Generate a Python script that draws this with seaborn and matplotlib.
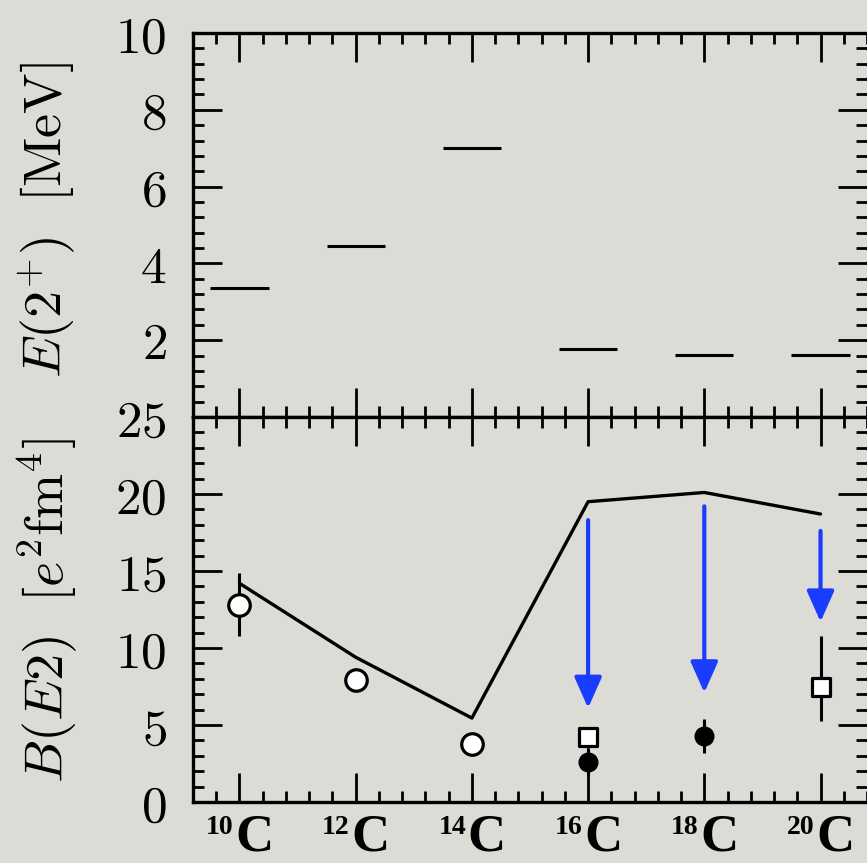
import numpy as np
import pandas as pd
import matplotlib
matplotlib.use("Agg")
import matplotlib.pyplot as plt
import matplotlib.transforms as mtransforms
from matplotlib.ticker import MultipleLocator
import seaborn as sns

# ---------------- data ----------------
isotopes_A = [10, 12, 14, 16, 18, 20]
isotope_labels = ["10", "12", "14", "16", "18", "20"]
element = "C"

e2plus_MeV = [3.35, 4.45, 7.01, 1.77, 1.61, 1.61]
be2_theory = [14.2, 9.4, 5.45, 19.5, 20.1, 18.7]

open_A = [10, 12, 14]
open_be2 = [12.8, 7.9, 3.75]
open_err = [2.05, 0.0, 0.0]

filled_A = [16, 18]
filled_be2 = [2.6, 4.3]
filled_err = [0.9, 1.1]

square_A = [16, 20]
square_be2 = [4.2, 7.45]
square_err_lo = [0.7, 2.2]
square_err_hi = [0.7, 3.3]

arrow_A = [16, 18, 20]
arrow_from = [18.3, 19.2, 17.6]
arrow_to = [6.1, 7.1, 11.7]

e_ticks = [2, 4, 6, 8, 10]
b_ticks = [0, 5, 10, 15, 20, 25]

top_ylabel = r"$E(2^{+})\ \ [\mathrm{MeV}]$"
bot_ylabel = r"$B(E2)\ \ [e^{2}\mathrm{fm}^{4}]$"

# ---------------- style ----------------
sns.set_theme(style="ticks")
plt.rcParams["font.family"] = ["DejaVu Serif"]
plt.rcParams["mathtext.fontset"] = "cm"

bg = "#dcdbd6"
blue = "#1a3cff"

fig = plt.figure(figsize=(8.67, 8.63), dpi=100, facecolor=bg)
W, H = 867, 863
left = 193 / W
width = 1.0 - left
ax1 = fig.add_axes([left, 1 - 417 / H, width, (417 - 33) / H])
ax2 = fig.add_axes([left, 1 - 802 / H, width, (802 - 417) / H])

for ax in (ax1, ax2):
    ax.set_facecolor(bg)
    ax.set_xlim(9.2, 20.8)
    ax.xaxis.set_major_locator(MultipleLocator(2))
    ax.xaxis.set_minor_locator(MultipleLocator(0.4))
    ax.tick_params(which="both", direction="in", top=True, bottom=True,
                   left=True, right=True, width=2.0, color="black")
    ax.tick_params(which="major", length=21)
    ax.tick_params(which="minor", length=8)
    ax.tick_params(axis="x", labelbottom=False, labeltop=False)
    ax.tick_params(axis="y", labelsize=37, pad=19, labelcolor="black")
    for side, sp in ax.spines.items():
        sp.set_linewidth(2.4)
        sp.set_color("black")
    ax.spines["right"].set_visible(False)

# ---------------- top panel ----------------
ax1.set_ylim(0, 10)
ax1.set_yticks(e_ticks)
ax1.set_yticklabels([f"${t}$" for t in e_ticks])
ax1.yaxis.set_minor_locator(MultipleLocator(0.4))
ax1.hlines(e2plus_MeV, np.array(isotopes_A) - 0.5, np.array(isotopes_A) + 0.5,
           color="black", lw=2.2)

# ---------------- bottom panel ----------------
ax2.set_ylim(0, 25)
ax2.set_yticks(b_ticks)
ax2.set_yticklabels([f"${t}$" for t in b_ticks])
ax2.yaxis.set_minor_locator(MultipleLocator(1))

df_th = pd.DataFrame({"A": isotopes_A, "BE2": be2_theory})
sns.lineplot(data=df_th, x="A", y="BE2", ax=ax2, color="black", lw=2.4,
             zorder=2, legend=False)

for a, fr, to in zip(arrow_A, arrow_from, arrow_to):
    ax2.annotate("", xy=(a, to), xytext=(a, fr),
                 arrowprops=dict(arrowstyle="-|>,head_length=0.45,head_width=0.2",
                                 color=blue, lw=3.0, shrinkA=0, shrinkB=0,
                                 mutation_scale=42), zorder=3)

ax2.errorbar(open_A, open_be2, yerr=open_err, fmt="none", ecolor="black",
             elinewidth=2.2, capsize=0, zorder=3)
ax2.errorbar(filled_A, filled_be2, yerr=filled_err, fmt="none", ecolor="black",
             elinewidth=2.2, capsize=0, zorder=3)
ax2.errorbar(square_A, square_be2, yerr=[square_err_lo, square_err_hi], fmt="none",
             ecolor="black", elinewidth=2.2, capsize=0, zorder=3)

sns.scatterplot(x=open_A, y=open_be2, ax=ax2, marker="o", s=240,
                facecolor="white", edgecolor="black", linewidth=2.3, zorder=4)
sns.scatterplot(x=filled_A, y=filled_be2, ax=ax2, marker="o", s=180,
                color="black", edgecolor="black", linewidth=1, zorder=4)
sns.scatterplot(x=square_A, y=square_be2, ax=ax2, marker="s", s=170,
                facecolor="white", edgecolor="black", linewidth=2.3, zorder=5)
ax2.set_xlabel("")
ax2.set_ylabel("")
ax2.set_xlim(9.2, 20.8)

# isotope labels under the bottom axis
trans = mtransforms.blended_transform_factory(ax2.transData, ax2.transAxes)
for a, lab in zip(isotopes_A, isotope_labels):
    ax2.text(a - 0.1, -0.084, lab, transform=trans, ha="right", va="baseline",
             fontsize=20, fontfamily="Liberation Serif", fontweight="bold",
             color="black", clip_on=False)
    ax2.text(a - 0.07, -0.126, element, transform=trans, ha="left", va="baseline",
             fontsize=38, fontfamily="Liberation Serif", fontweight="bold",
             color="black", clip_on=False)

# y labels
fig.text(47 / W, 1 - 220 / H, top_ylabel, rotation=90, ha="center", va="center",
         fontsize=39, color="black")
fig.text(47 / W, 1 - 611 / H, bot_ylabel, rotation=90, ha="center", va="center",
         fontsize=39, color="black")

fig.savefig("out.png", dpi=100, facecolor=bg)
